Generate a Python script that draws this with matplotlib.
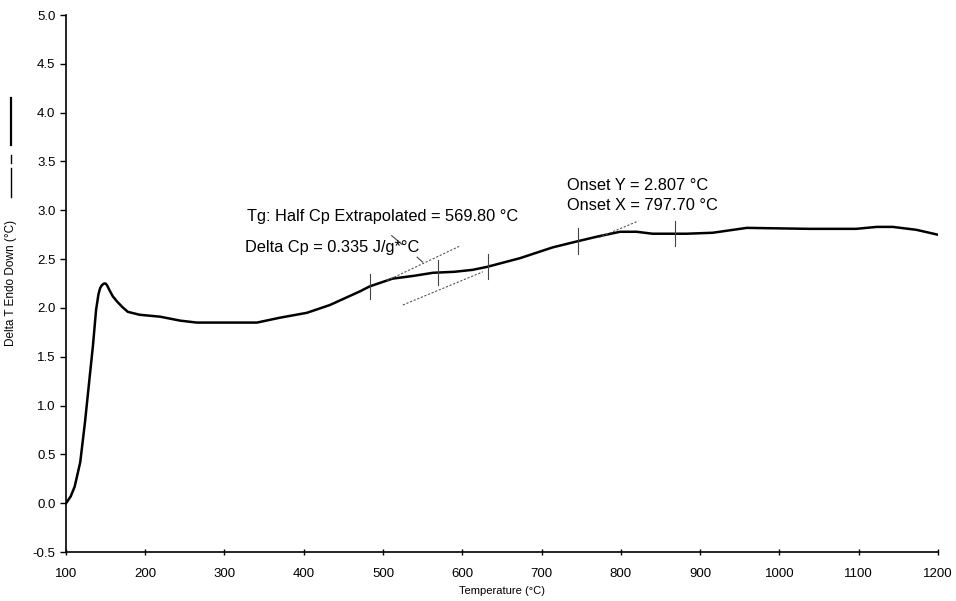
import numpy as np
import matplotlib.pyplot as plt
from matplotlib.lines import Line2D

plt.rcParams['font.family'] = ['Liberation Sans', 'DejaVu Sans']

# DSC trace: temperature (°C) vs Delta T (°C)
temp = [100, 101, 106, 111, 118, 124, 130, 134, 138, 141, 143, 145, 148, 150,
        152, 155, 159, 164, 171, 178, 193, 219, 244, 265, 300, 341, 370, 404,
        433, 471, 483, 512, 540, 563, 590, 613, 631, 673, 714, 744, 770, 799,
        820, 840, 883, 916, 959, 1038, 1097, 1123, 1143, 1173, 1200]
delta_t = [0.0, 0.01, 0.07, 0.17, 0.42, 0.83, 1.30, 1.61, 1.98, 2.14, 2.20, 2.23,
           2.25, 2.25, 2.23, 2.18, 2.12, 2.07, 2.01, 1.96, 1.93, 1.91, 1.87, 1.85,
           1.85, 1.85, 1.90, 1.95, 2.03, 2.17, 2.22, 2.30, 2.33, 2.36, 2.37, 2.39,
           2.42, 2.51, 2.62, 2.68, 2.73, 2.78, 2.78, 2.76, 2.76, 2.77, 2.82, 2.81,
           2.81, 2.83, 2.83, 2.80, 2.75]

# analysis limits and results
limit_temps = [483, 569.8, 633, 746, 869]
tg = 569.8
delta_cp = 0.335
onset_x = 797.70
onset_y = 2.807

# extrapolated baselines (x0, y0, x1, y1)
upper_base = (505, 2.28, 596, 2.63)
lower_base = (525, 2.03, 626, 2.37)
onset_base = (772, 2.72, 822, 2.89)

fig = plt.figure(figsize=(9.56, 6.01), dpi=100)
ax = fig.add_axes([0.069, 0.0815, 0.912, 0.8935])

ax.plot(temp, delta_t, color='black', lw=1.8, solid_joinstyle='round')

for b in (upper_base, lower_base, onset_base):
    ax.plot([b[0], b[2]], [b[1], b[3]], color='#555555', lw=0.8, ls=(0, (2, 1.5)))

for t in limit_temps:
    yc = np.interp(t, temp, delta_t)
    ax.plot([t, t], [yc - 0.13, yc + 0.13], color='#444444', lw=0.8)

ax.text(328, 2.94, 'Tg: Half Cp Extrapolated = %.2f °C' % tg, fontsize=11.8, va='center')
ax.text(326, 2.62, 'Delta Cp = %.3f J/g*°C' % delta_cp, fontsize=11.8, va='center')
ax.text(732, 3.25, 'Onset Y = %.3f °C' % onset_y, fontsize=11.8, va='center')
ax.text(732, 3.05, 'Onset X = %.2f °C' % onset_x, fontsize=11.8, va='center')
ax.plot([511, 524], [2.74, 2.65], color='#444444', lw=0.8)
ax.plot([543, 550], [2.52, 2.47], color='#444444', lw=0.8)

ax.set_xlim(100, 1200)
ax.set_ylim(-0.5, 5.0)
ax.set_xticks(np.arange(100, 1201, 100))
ax.set_yticks(np.arange(-0.5, 5.01, 0.5))
ax.set_yticklabels(['%.1f' % v for v in np.arange(-0.5, 5.01, 0.5)])
ax.tick_params(axis='y', direction='out', length=4, labelsize=9.5, width=1)
ax.tick_params(axis='x', direction='inout', length=5, labelsize=9.5, width=1, pad=9)
ax.spines['top'].set_visible(False)
ax.spines['right'].set_visible(False)
ax.spines['left'].set_linewidth(1.2)
ax.spines['bottom'].set_linewidth(1.2)

ax.set_xlabel('Temperature (°C)', fontsize=8, labelpad=4)
fig.text(0.011, 1 - 283 / 601, 'Delta T Endo Down (°C)', rotation=90,
         fontsize=8.5, ha='center', va='center')

# line-style key next to the y label
for y0, y1, w in [(168, 197, 1.0), (155, 163, 1.0), (98, 145, 1.6)]:
    fig.add_artist(Line2D([0.011, 0.011], [1 - y0 / 601, 1 - y1 / 601],
                          transform=fig.transFigure, color='black', lw=w))

fig.savefig('out.png', dpi=100, facecolor='white')
